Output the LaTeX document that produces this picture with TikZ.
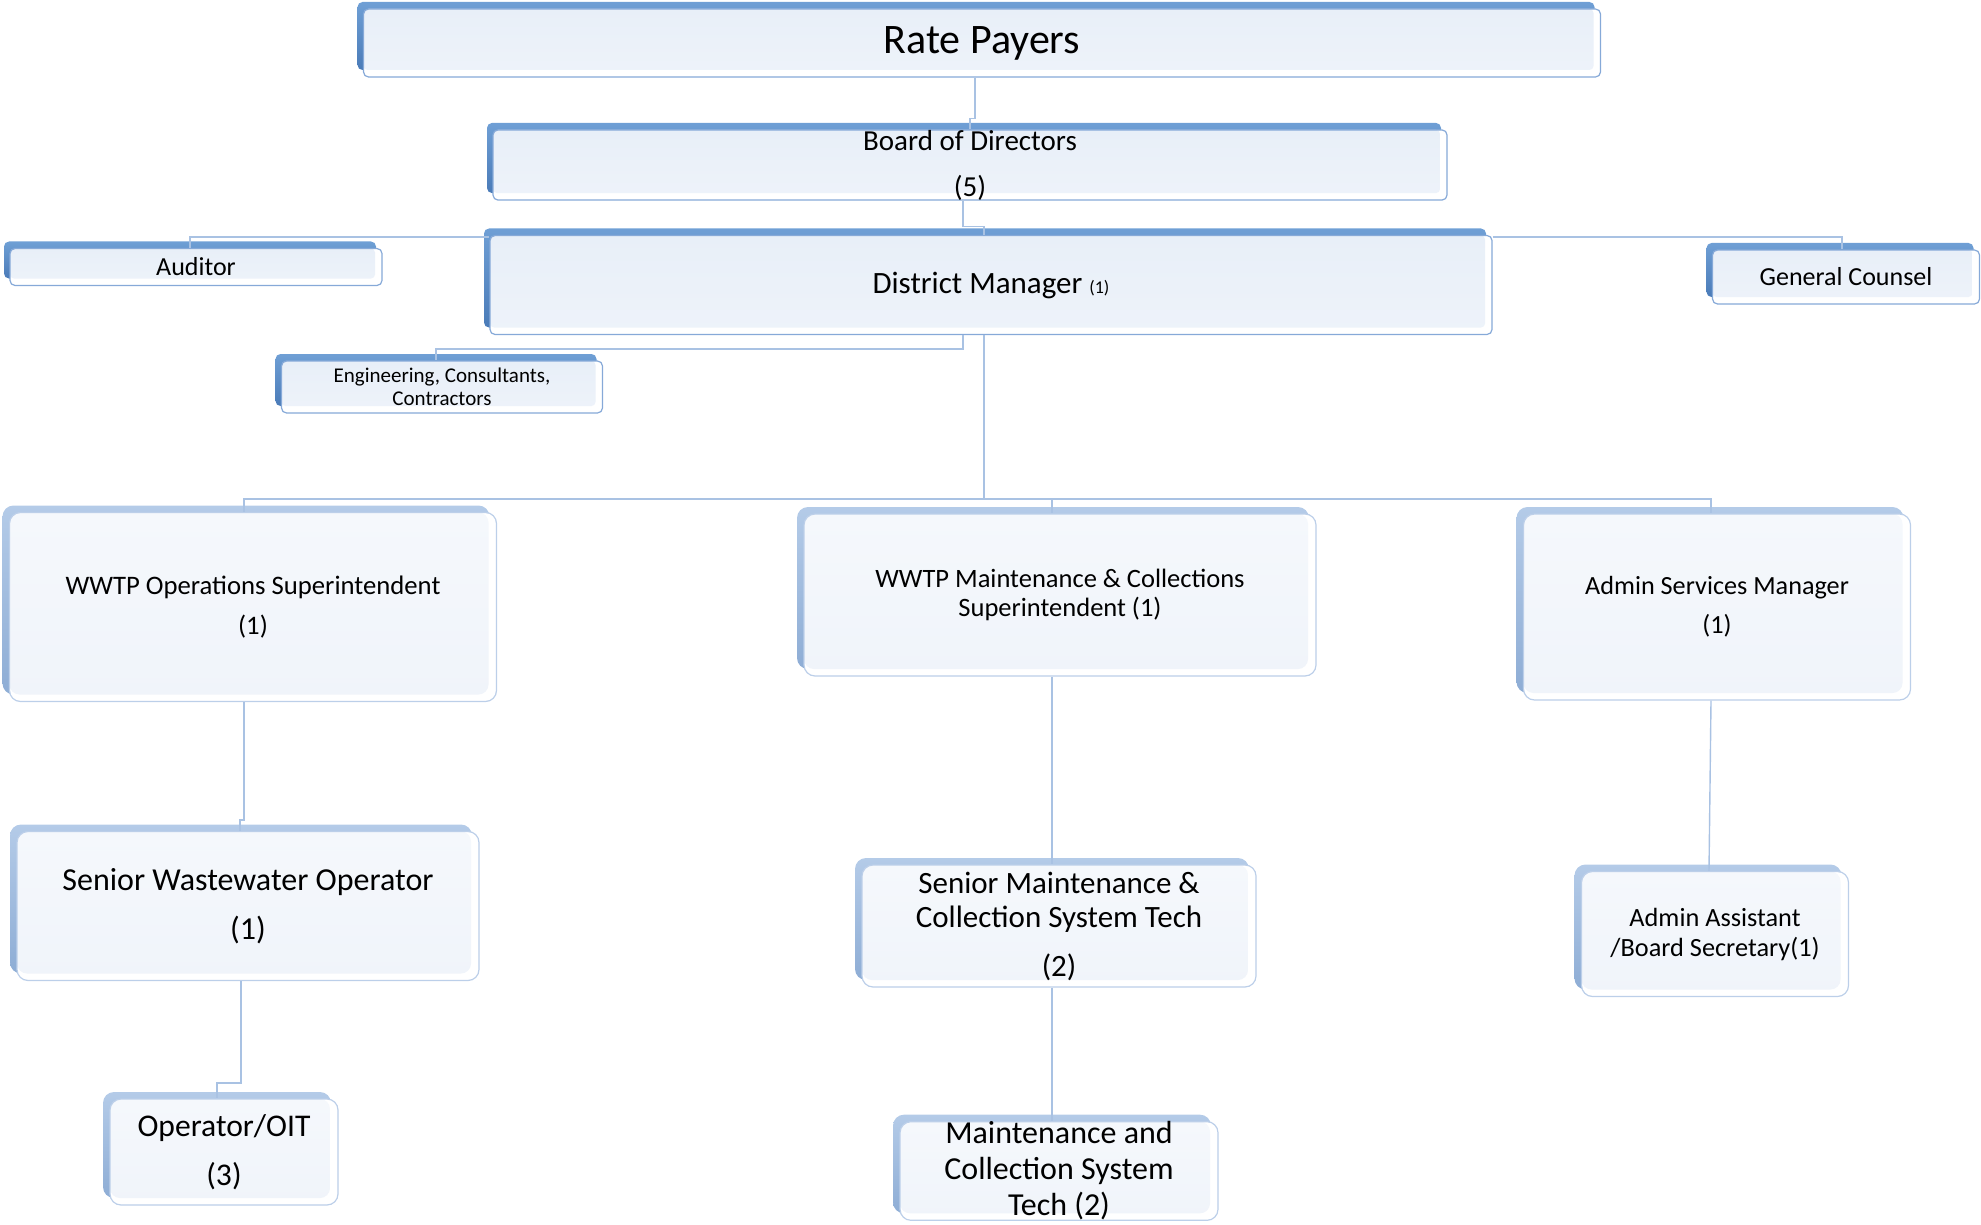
\documentclass[tikz,border=0pt]{standalone}
\usepackage{fontspec}
\setmainfont{Carlito}
\definecolor{topbackhi}{HTML}{6F9FD5}
\definecolor{topbacklo}{HTML}{4A7BB8}
\definecolor{topfillhi}{HTML}{E8EFF8}
\definecolor{topfilllo}{HTML}{EEF3FA}
\definecolor{topline}{HTML}{86A9D8}
\definecolor{staffbackhi}{HTML}{B4CBE8}
\definecolor{staffbacklo}{HTML}{8EADD5}
\definecolor{stafffillhi}{HTML}{F5F8FC}
\definecolor{stafffilllo}{HTML}{F0F4FA}
\definecolor{staffline}{HTML}{BCCFE9}
\definecolor{linkblue}{HTML}{A9C2E3}
\def\fs#1#2{\fontsize{#1}{#2}\selectfont}

\begin{document}
\begin{tikzpicture}[x=1pt,y=-1pt,
  boxsize/.style 2 args={minimum width=#1pt,minimum height=#2pt},
  top node/.style={rectangle,rounded corners=5pt,draw=topline,line width=1.2pt,
    fill=white,inner sep=0pt,align=center,
    preaction={top color=topbackhi,bottom color=topbacklo,
      transform canvas={shift={(-6pt,7pt)}}},
    path picture={\shade[top color=topfillhi,bottom color=topfilllo,rounded corners=4pt]
      (path picture bounding box.north west) rectangle
      ([xshift=-7pt,yshift=7pt]path picture bounding box.south east);}},
  staff node/.style={rectangle,rounded corners=11pt,draw=staffline,line width=1.2pt,
    fill=white,inner sep=0pt,align=center,
    preaction={top color=staffbackhi,bottom color=staffbacklo,
      transform canvas={shift={(-7pt,7pt)}}},
    path picture={\shade[top color=stafffillhi,bottom color=stafffilllo,rounded corners=10pt]
      (path picture bounding box.north west) rectangle
      ([xshift=-8pt,yshift=7pt]path picture bounding box.south east);}},
  link/.style={draw=linkblue,line width=1.4pt}]

  \useasboundingbox (0,0) rectangle (1981,1225);

  % governance
  \node[top node,boxsize={1237}{68},font=\fs{42}{50}] (rate) at (982,43) {Rate Payers};
  \node[top node,boxsize={954}{67},font=\fs{29}{46}] (board) at (970,165) {Board of Directors\\(5)};
  \node[top node,boxsize={1002}{99},font=\fs{31}{38}] (dm) at (991,285) {District Manager {\fs{18}{20}(1)}};
  \node[top node,boxsize={372}{37},font=\fs{26}{30}] (auditor) at (196,267) {Auditor};
  \node[top node,boxsize={267}{54},font=\fs{26}{30}] (counsel) at (1846,277) {General Counsel};
  \node[top node,boxsize={321}{52},font=\fs{21}{23}] (eng) at (442,387) {Engineering, Consultants,\\Contractors};

  % staff
  \node[staff node,boxsize={487}{189},font=\fs{26.7}{40}] (ops) at (253,607) {WWTP Operations Superintendent\\(1)};
  \node[staff node,boxsize={512}{162},font=\fs{26.5}{29}] (maint) at (1060,595) {WWTP Maintenance \& Collections\\Superintendent (1)};
  \node[staff node,boxsize={387}{186},font=\fs{26.2}{39}] (adminmgr) at (1717,607) {Admin Services Manager\\(1)};
  \node[staff node,boxsize={462}{149},font=\fs{32}{49}] (srww) at (248,906) {Senior Wastewater Operator\\(1)};
  \node[staff node,boxsize={394}{122},font=\fs{31}{34}] (srmaint) at (1059,926) {Senior Maintenance \&\\Collection System Tech\\[15pt](2)};
  \node[staff node,boxsize={267}{125},font=\fs{26.3}{30}] (adminasst) at (1715,934) {Admin Assistant\\/Board Secretary(1)};
  \node[staff node,boxsize={228}{106},font=\fs{31.6}{49}] (oit) at (224,1152) {Operator/OIT\\(3)};
  \node[staff node,boxsize={318}{96},font=\fs{32}{36}] (mainttech) at (1059,1171) {Maintenance and\\Collection System\\Tech (2)};

  % reporting lines
  \draw[link] ([xshift=-7pt]rate.south) -- ++(0,41) -| (board.north);
  \draw[link] ([xshift=-7pt]board.south) -- ++(0,26) -| ([xshift=-7pt]dm.north);
  \draw[link] ([yshift=-2pt]dm.north west) -| ([xshift=-6pt]auditor.north);
  \draw[link] ([yshift=-2pt]dm.north east) -| ([xshift=-4pt]counsel.north);
  \draw[link] ([xshift=-28pt]dm.south) -- ++(0,14) -| ([xshift=-6pt]eng.north);
  \draw[link] ([xshift=-7pt]dm.south) -- ++(0,164) coordinate (hub);
  \draw[link] (hub) -| ([xshift=-9pt]ops.north);
  \draw[link] (hub) -| ([xshift=-8pt]maint.north);
  \draw[link] (hub) -| ([xshift=-6pt]adminmgr.north);
  \draw[link] ([xshift=-9pt]ops.south) -- ++(0,118) -| ([xshift=-8pt]srww.north);
  \draw[link] ([xshift=-7pt]srww.south) -- ++(0,102) -| ([xshift=-7pt]oit.north);
  \draw[link] ([xshift=-8pt]maint.south) -- ([xshift=-7pt]srmaint.north);
  \draw[link] ([xshift=-7pt]srmaint.south) -- ([xshift=-7pt]mainttech.north);
  \draw[link] ([xshift=-6pt]adminmgr.south) -- ([xshift=-6pt]adminasst.north);
\end{tikzpicture}
\end{document}
